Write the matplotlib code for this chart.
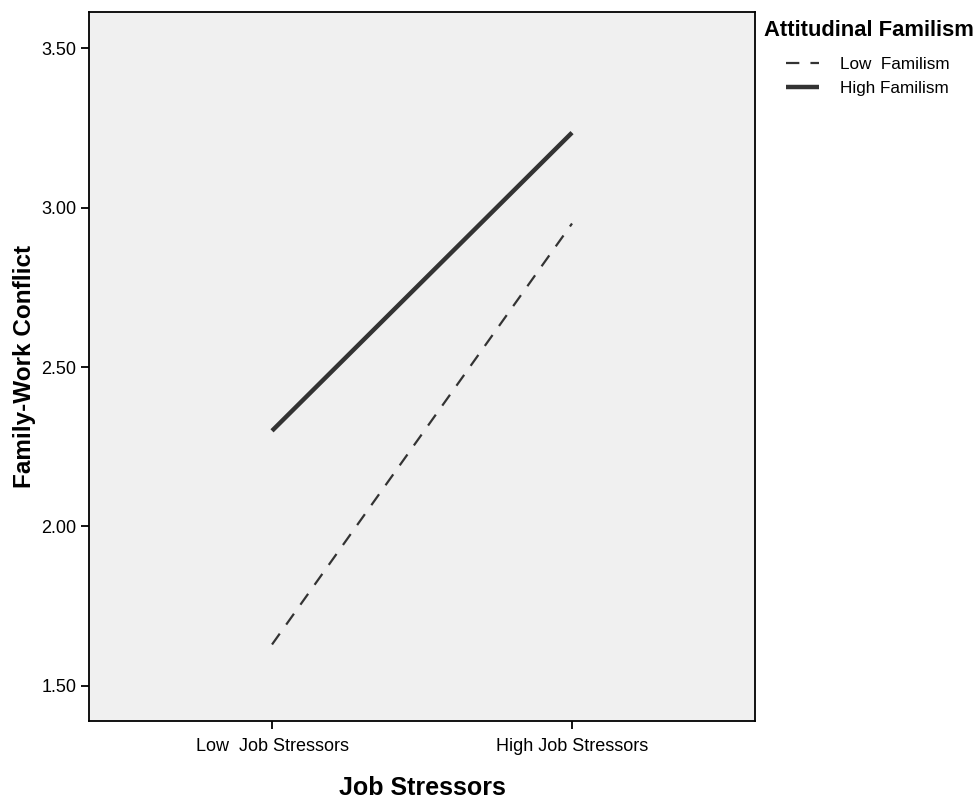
import numpy as np
import matplotlib.pyplot as plt

plt.rcParams['font.family'] = ['Liberation Sans', 'DejaVu Sans']

stressors = ['Low  Job Stressors', 'High Job Stressors']
low_familism = [1.63, 2.95]
high_familism = [2.30, 3.235]
yticks = [1.50, 2.00, 2.50, 3.00, 3.50]

fig = plt.figure(figsize=(9.76, 8.05), dpi=100)
ax = fig.add_axes([0.0912, 0.1043, 0.6824, 0.8807])
ax.set_facecolor('#f0f0f0')

x = np.arange(len(stressors))
ax.plot(x, low_familism, color='#333333', lw=1.6, dashes=(6, 5), label='Low  Familism')
ax.plot(x, high_familism, color='#333333', lw=3.2, solid_capstyle='butt', label='High Familism')

ax.set_xlim(-0.61, 1.61)
ax.set_ylim(1.39, 3.613)
ax.set_xticks(x)
ax.set_xticklabels(stressors, fontsize=13)
ax.set_yticks(yticks)
ax.set_yticklabels([f'{v:.2f}' for v in yticks], fontsize=13)
ax.tick_params(direction='out', length=6, width=1.3, pad=3)
ax.tick_params(axis='x', pad=6)

for s in ax.spines.values():
    s.set_linewidth(1.3)

ax.set_xlabel('Job Stressors', fontsize=18, fontweight='bold', labelpad=15)
ax.set_ylabel('Family-Work Conflict', fontsize=17.5, fontweight='bold', labelpad=4)

# legend title and entries placed separately so the entries sit indented
fig.text(764 / 976, 1 - 30 / 805, 'Attitudinal Familism', fontsize=15.8,
         fontweight='bold', va='center', ha='left')
leg = fig.legend(*ax.get_legend_handles_labels(), loc='upper left',
                 bbox_to_anchor=(786 / 976, 1 - 57 / 805), frameon=False,
                 fontsize=12.3, handlelength=1.95, borderaxespad=0, borderpad=0,
                 labelspacing=0.5, handletextpad=1.2)

fig.savefig('out.png', dpi=100)
